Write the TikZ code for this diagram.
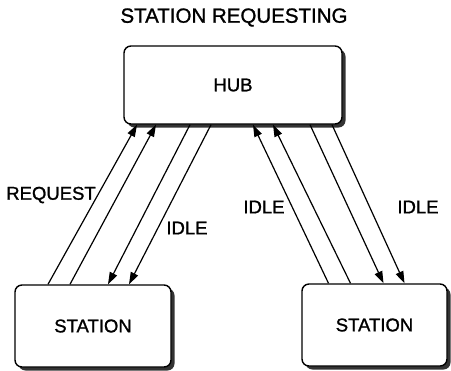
\documentclass[tikz,border=0pt]{standalone}
\usepackage{fontspec}
\setmainfont{Liberation Sans}[UprightFeatures={FakeBold=1.2}]
\usetikzlibrary{shadows,arrows.meta}
\begin{document}
\begin{tikzpicture}[x=1bp,y=-1bp,
  box/.style={draw=black, line width=1.4bp, fill=white, rounded corners=7bp, inner sep=0pt,
    font=\fontsize{18.5bp}{22bp}\selectfont,
    drop shadow={shadow xshift=3.5bp, shadow yshift=-3.5bp, fill=black!80, opacity=1}},
  lbl/.style={font=\fontsize{18.5bp}{22bp}\selectfont, inner sep=0pt},
  link/.style={line width=1.2bp, -{Triangle[length=12bp,width=8bp]}}]
\useasboundingbox (0,0) rectangle (451,370);
\node[lbl, font=\fontsize{20.5bp}{24bp}\selectfont] (title) at (234,17.5) {STATION REQUESTING};
\node[box, minimum width=218bp, minimum height=78bp] (hub) at (233,85) {HUB};
\node[box, minimum width=156bp, minimum height=82bp] (s1) at (93,326) {STATION};
\node[box, minimum width=145bp, minimum height=82bp] (s2) at (374.5,325) {STATION};
% left group
\draw[link] ([xshift=-45bp]s1.north) -- ([xshift=-96bp]hub.south);
\draw[link] ([xshift=-23bp]s1.north) -- ([xshift=-77bp]hub.south);
\draw[link] ([xshift=-43bp]hub.south) -- ([xshift=15bp]s1.north);
\draw[link] ([xshift=-22bp]hub.south) -- ([xshift=36bp]s1.north);
% right group
\draw[link] ([xshift=-46bp]s2.north) -- ([xshift=20bp]hub.south);
\draw[link] ([xshift=-24bp]s2.north) -- ([xshift=40bp]hub.south);
\draw[link] ([xshift=77bp]hub.south) -- ([xshift=9bp]s2.north);
\draw[link] ([xshift=99bp]hub.south) -- ([xshift=30bp]s2.north);
% labels
\node[lbl] (lreq) at (51,195) {REQUEST};
\node[lbl] (lidle1) at (187,228) {IDLE};
\node[lbl] (lidle2) at (264,207) {IDLE};
\node[lbl] (lidle3) at (418,207) {IDLE};
\end{tikzpicture}
\end{document}
